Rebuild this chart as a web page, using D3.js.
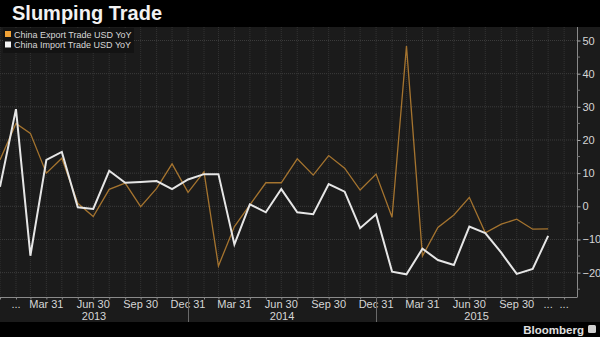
<!DOCTYPE html>
<html>
<head>
<meta charset="utf-8">
<script src="https://cdn.jsdelivr.net/npm/d3@7"></script>
<style>
  html, body { margin: 0; padding: 0; background: #000; }
  svg { display: block; }
</style>
</head>
<body>
<svg id="chart" width="600" height="337"></svg>
<script>
// Monthly observations, Dec 2012 – Nov 2015
const months = [
  "2012-12","2013-01","2013-02","2013-03","2013-04","2013-05","2013-06","2013-07","2013-08","2013-09","2013-10","2013-11",
  "2013-12","2014-01","2014-02","2014-03","2014-04","2014-05","2014-06","2014-07","2014-08","2014-09","2014-10","2014-11",
  "2014-12","2015-01","2015-02","2015-03","2015-04","2015-05","2015-06","2015-07","2015-08","2015-09","2015-10","2015-11"
];
// China export trade, USD, % year over year
const exportYoY = [
  14.0, 25.0, 22.0, 10.0, 14.5, 0.9, -3.1, 5.1, 7.0, -0.1, 5.4, 12.8,
  4.2, 10.4, -18.0, -6.1, 0.4, 7.1, 7.1, 14.3, 9.4, 15.3, 11.5, 4.9,
  9.7, -3.3, 48.3, -15.0, -6.4, -2.6, 2.7, -8.0, -5.4, -3.9, -6.9, -6.8
];
// China import trade, USD, % year over year
const importYoY = [
  5.9, 29.3, -14.9, 14.0, 16.4, -0.3, -0.8, 10.7, 7.1, 7.3, 7.6, 5.2,
  8.1, 9.7, 9.7, -11.5, 0.6, -1.8, 5.2, -1.8, -2.4, 6.7, 4.4, -6.6,
  -2.4, -19.7, -20.5, -12.8, -16.2, -17.7, -6.1, -8.1, -14.0, -20.4, -18.9, -8.9
];
const seriesNames = ["China Export Trade USD YoY", "China Import Trade USD YoY"];
const yTicks = [-20, -10, 0, 10, 20, 30, 40, 50];
const xTickLabels = [
  ["2013-01", "..."], ["2013-03", "Mar 31"], ["2013-06", "Jun 30"], ["2013-09", "Sep 30"],
  ["2013-12", "Dec 31"], ["2014-03", "Mar 31"], ["2014-06", "Jun 30"], ["2014-09", "Sep 30"],
  ["2014-12", "Dec 31"], ["2015-03", "Mar 31"], ["2015-06", "Jun 30"], ["2015-09", "Sep 30"],
  ["2015-11", "..."], ["2015-12", "..."]
];
const years = ["2013", "2014", "2015"];
const title = "Slumping Trade";

const svg = d3.select("#chart");
const W = 600, H = 337;
const plot = { left: 0, right: 577, top: 27, bottom: 297 };
const FONT = "'Liberation Sans', Arial, sans-serif";

const parseMonth = d3.timeParse("%Y-%m");
const monthEnd = s => d3.timeDay.offset(d3.timeMonth.offset(parseMonth(s), 1), -1);
const dates = months.map(monthEnd);

const x = d3.scaleTime()
  .domain([new Date(2012, 11, 31), new Date(2016, 0, 25)])
  .range([plot.left, plot.right]);
const y = d3.scaleLinear()
  .domain([-27.35, 54.07])
  .range([plot.bottom, plot.top]);

// backgrounds
svg.append("rect").attr("width", W).attr("height", H).attr("fill", "#000");
svg.append("rect").attr("x", 0).attr("y", plot.top).attr("width", W).attr("height", 322 - plot.top).attr("fill", "#1b1b1b");

// title
svg.append("text").attr("x", 12).attr("y", 19.5)
  .attr("font-family", FONT).attr("font-weight", "bold").attr("font-size", 20)
  .attr("fill", "#f2f2f2").text(title);

// gridlines
const grid = svg.append("g");
grid.selectAll("line.h").data(d3.range(-25, 55, 5).filter(v => v % 10 === 0)).join("line")
  .attr("x1", plot.left).attr("x2", plot.right)
  .attr("y1", d => y(d)).attr("y2", d => y(d))
  .attr("stroke", "#3c3c3c").attr("stroke-dasharray", "1,1");
const gridDates = dates.concat([monthEnd("2015-12")]);
grid.selectAll("line.v").data(gridDates).join("line")
  .attr("x1", d => x(d)).attr("x2", d => x(d))
  .attr("y1", plot.top).attr("y2", plot.bottom)
  .attr("stroke", "#333").attr("stroke-dasharray", "1,1");

// axes frame
svg.append("line").attr("x1", plot.left).attr("x2", plot.right)
  .attr("y1", plot.bottom + 0.5).attr("y2", plot.bottom + 0.5).attr("stroke", "#8a8a8a");
svg.append("line").attr("x1", plot.right + 0.5).attr("x2", plot.right + 0.5)
  .attr("y1", plot.top).attr("y2", plot.bottom + 0.5).attr("stroke", "#8a8a8a");

// y axis on the right
const yAxis = d3.axisRight(y).tickValues(yTicks).tickSize(3).tickPadding(2)
  .tickFormat(d3.format("d"));
const gy = svg.append("g").attr("transform", `translate(${plot.right + 0.5},0)`).call(yAxis);
gy.select(".domain").remove();
gy.selectAll(".tick line").attr("stroke", "#aaa");
gy.selectAll(".tick text").attr("fill", "#d6d6d6").attr("font-family", FONT).attr("font-size", 11);
// minor ticks at the fives
svg.append("g").selectAll("line").data(d3.range(-25, 55, 10)).join("line")
  .attr("x1", plot.right).attr("x2", plot.right + 3)
  .attr("y1", d => y(d)).attr("y2", d => y(d)).attr("stroke", "#777");

// x axis: monthly ticks, quarter labels
const xAxis = d3.axisBottom(x).tickValues(gridDates).tickSize(2).tickFormat("");
const gx = svg.append("g").attr("transform", `translate(0,${plot.bottom + 0.5})`).call(xAxis);
gx.select(".domain").remove();
gx.selectAll(".tick line").attr("stroke", "#8a8a8a");

svg.append("g").selectAll("text").data(xTickLabels).join("text")
  .attr("x", d => x(monthEnd(d[0])))
  .attr("y", 308)
  .attr("text-anchor", "middle")
  .attr("font-family", FONT).attr("font-size", 11).attr("fill", "#d6d6d6")
  .text(d => d[1]);

// year separators and labels
const yearBounds = [x.range()[0], x(monthEnd("2013-12")), x(monthEnd("2014-12")), x.range()[1]];
svg.append("g").selectAll("line").data(yearBounds.slice(1, 3)).join("line")
  .attr("x1", d => Math.round(d) + 0.5).attr("x2", d => Math.round(d) + 0.5)
  .attr("y1", plot.bottom).attr("y2", 322).attr("stroke", "#6a6a6a");
svg.append("g").selectAll("text").data(years).join("text")
  .attr("x", (d, i) => (yearBounds[i] + yearBounds[i + 1]) / 2)
  .attr("y", 320)
  .attr("text-anchor", "middle")
  .attr("font-family", FONT).attr("font-size", 11).attr("fill", "#d6d6d6")
  .text(d => d);

// series lines
const line = d3.line().x((d, i) => x(dates[i])).y(d => y(d));
svg.append("path").datum(exportYoY).attr("d", line)
  .attr("fill", "none").attr("stroke", "#a5742f").attr("stroke-width", 1.3)
  .attr("stroke-linejoin", "miter");
svg.append("path").datum(importYoY).attr("d", line)
  .attr("fill", "none").attr("stroke", "#e6e6e6").attr("stroke-width", 2)
  .attr("stroke-linejoin", "miter");

// legend
const legend = svg.append("g");
legend.append("rect").attr("x", 3).attr("y", 28).attr("width", 131).attr("height", 25)
  .attr("fill", "#131313");
const legendColors = ["#f0a236", "#f4f4f4"];
seriesNames.forEach((name, i) => {
  legend.append("rect").attr("x", 5).attr("y", 31 + i * 10.5).attr("width", 6).attr("height", 6)
    .attr("fill", legendColors[i]);
  legend.append("text").attr("x", 14).attr("y", 37.5 + i * 10.5)
    .attr("font-family", FONT).attr("font-size", 9).attr("fill", "#d8d8d8").text(name);
});

// source mark
svg.append("text").attr("x", 584).attr("y", 334).attr("text-anchor", "end")
  .attr("font-family", FONT).attr("font-weight", "bold").attr("font-size", 11.5)
  .attr("fill", "#e0e0e0").text("Bloomberg");
svg.append("rect").attr("x", 588).attr("y", 325).attr("width", 8).attr("height", 8).attr("rx", 1.5)
  .attr("fill", "#cfcfcf");
</script>
</body>
</html>
